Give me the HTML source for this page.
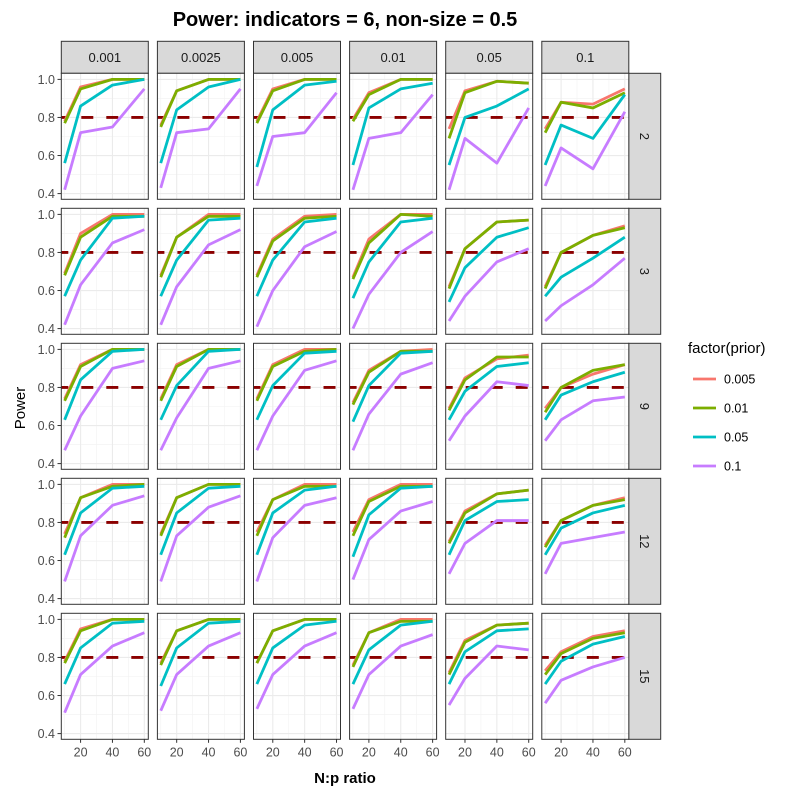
<!DOCTYPE html>
<html><head><meta charset="utf-8"><style>
html,body{margin:0;padding:0;background:#fff}
svg{display:block;font-family:"Liberation Sans",Arial,sans-serif}
</style></head><body>
<svg id="chart" width="800" height="799" viewBox="0 0 800 799">
<text x="345" y="26" text-anchor="middle" font-size="20" font-weight="bold" fill="#000">Power: indicators = 6, non-size = 0.5</text>
<text x="345" y="783" text-anchor="middle" font-size="15" font-weight="bold" fill="#000">N:p ratio</text>
<text transform="translate(25,408) rotate(-90)" text-anchor="middle" font-size="15" fill="#000">Power</text>
<g id="panels"></g>
<g>
<text x="688" y="353" font-size="15" fill="#000">factor(prior)</text>
<g id="legend"></g>
</g>
</svg>
<script>
const xVals=[10,20,40,60];
const colPriors=["0.001","0.0025","0.005","0.01","0.05","0.1"];
const rowSizes=["2","3","9","12","15"];
const seriesNames=["0.005","0.01","0.05","0.1"];
const seriesColors=["#F8766D","#7CAE00","#00BFC4","#C77CFF"];
const yTicks=[0.4,0.6,0.8,1.0];
const xTicks=[20,40,60];
const threshold=0.8;
const powerRow2=[
 [[.78,.96,1,1],[.77,.95,1,1],[.56,.86,.97,1.0],[.42,.72,.75,.95]],
 [[.76,.94,1,1],[.75,.94,1,1],[.56,.84,.96,1.0],[.43,.72,.74,.95]],
 [[.78,.95,1,1],[.77,.94,1,1],[.54,.84,.97,.99],[.44,.70,.72,.93]],
 [[.79,.93,1,1],[.78,.92,1,1],[.55,.85,.95,.98],[.42,.69,.72,.92]],
 [[.74,.94,.99,.98],[.69,.93,.99,.98],[.55,.80,.86,.95],[.42,.69,.56,.85]],
 [[.74,.88,.87,.95],[.72,.88,.85,.93],[.55,.76,.69,.92],[.44,.64,.53,.83]]];
const powerRow3=[
 [[.69,.90,1,1],[.68,.88,.99,.99],[.57,.76,.98,.99],[.42,.63,.85,.92]],
 [[.68,.88,1,1],[.67,.88,.99,.99],[.57,.76,.97,.98],[.42,.62,.84,.92]],
 [[.68,.87,.99,1],[.67,.86,.98,.99],[.57,.76,.96,.98],[.41,.60,.83,.91]],
 [[.67,.87,1,1],[.66,.85,1,.99],[.56,.75,.96,.98],[.40,.58,.80,.91]],
 [[.62,.82,.96,.97],[.61,.82,.96,.97],[.54,.72,.88,.93],[.44,.57,.75,.82]],
 [[.62,.80,.89,.94],[.61,.80,.89,.93],[.57,.67,.77,.88],[.44,.52,.63,.77]]];
const powerRow9=[
 [[.74,.92,1,1],[.73,.91,1,1],[.63,.84,.99,1],[.47,.65,.90,.94]],
 [[.74,.92,1,1],[.73,.91,1,1],[.63,.81,.99,1],[.47,.64,.90,.94]],
 [[.74,.92,1,1],[.73,.91,.99,1],[.63,.81,.98,.99],[.47,.65,.89,.94]],
 [[.72,.89,.99,1],[.71,.88,.99,.99],[.62,.81,.98,.99],[.47,.66,.87,.93]],
 [[.69,.85,.95,.97],[.68,.84,.96,.96],[.63,.78,.91,.93],[.52,.65,.83,.81]],
 [[.69,.80,.87,.92],[.67,.80,.89,.92],[.63,.76,.83,.88],[.52,.63,.73,.75]]];
const powerRow12=[
 [[.74,.93,1,1],[.72,.93,.99,1],[.63,.85,.98,.99],[.49,.73,.89,.94]],
 [[.74,.93,1,1],[.73,.93,1,1],[.63,.85,.98,.99],[.49,.73,.88,.94]],
 [[.75,.92,1,1],[.73,.92,.99,.99],[.63,.85,.97,.99],[.49,.72,.89,.93]],
 [[.75,.92,1,1],[.73,.91,.99,.99],[.62,.84,.98,.99],[.50,.71,.86,.91]],
 [[.70,.86,.95,.97],[.69,.85,.95,.97],[.63,.81,.91,.92],[.53,.69,.81,.81]],
 [[.68,.81,.89,.93],[.67,.81,.89,.92],[.63,.77,.85,.89],[.53,.69,.72,.75]]];
const powerRow15=[
 [[.78,.95,1,1],[.77,.94,1,1],[.66,.85,.98,.99],[.51,.71,.86,.93]],
 [[.77,.94,1,1],[.76,.94,1,1],[.65,.85,.98,.99],[.52,.71,.86,.93]],
 [[.77,.94,1,1],[.77,.94,1,1],[.66,.85,.97,.99],[.53,.71,.86,.93]],
 [[.76,.93,1,1],[.75,.93,.99,.99],[.66,.84,.97,.99],[.53,.71,.86,.92]],
 [[.72,.89,.97,.98],[.71,.88,.97,.98],[.66,.83,.94,.95],[.55,.69,.86,.84]],
 [[.73,.83,.91,.94],[.71,.82,.90,.93],[.66,.78,.87,.91],[.56,.68,.75,.80]]];
const power=[powerRow2,powerRow3,powerRow9,powerRow12,powerRow15];

const NS="http://www.w3.org/2000/svg";
function mk(tag,attrs,parent){const e=document.createElementNS(NS,tag);for(const k in attrs)e.setAttribute(k,attrs[k]);parent.appendChild(e);return e;}
const P0X=61.3,PW=87,CSTEP=96.1,P0Y=73.3,PH=126,RSTEP=135;
const XMIN=7.9,XMAX=62.5,YMIN=0.37,YMAX=1.032;
const panelsG=document.getElementById('panels');

colPriors.forEach((cp,c)=>{
  const x0=P0X+c*CSTEP;
  const s=mk('rect',{x:x0,y:41.3,width:PW,height:32,fill:'#d9d9d9',stroke:'#333','stroke-width':1},panelsG);
  
  
  const t=mk('text',{x:x0+PW/2,y:62,'text-anchor':'middle','font-size':13,fill:'#1a1a1a'},panelsG);
  t.textContent=cp;
  
  
});
rowSizes.forEach((rs,r)=>{
  const y0=P0Y+r*RSTEP;
  const s=mk('rect',{x:628.7,y:y0,width:32,height:PH,fill:'#d9d9d9',stroke:'#333','stroke-width':1},panelsG);
  
  
  const t=mk('text',{transform:`translate(640,${y0+PH/2}) rotate(90)`,'text-anchor':'middle','font-size':13,fill:'#1a1a1a'},panelsG);
  t.textContent=rs;
  
  
  yTicks.forEach(v=>{
    const yy=y0+(YMAX-v)/(YMAX-YMIN)*PH;
    mk('line',{x1:57.5,x2:P0X,y1:yy,y2:yy,stroke:'#333','stroke-width':1},panelsG);
    const tl=mk('text',{x:55,y:yy+4.5,'text-anchor':'end','font-size':12.5,fill:'#4d4d4d'},panelsG);
    tl.textContent=v.toFixed(1);
    
    
  });
});

for(let r=0;r<rowSizes.length;r++){
  for(let c=0;c<colPriors.length;c++){
    const x0=P0X+c*CSTEP,y0=P0Y+r*RSTEP;
    const sx=v=>x0+(v-XMIN)/(XMAX-XMIN)*PW;
    const sy=v=>y0+(YMAX-v)/(YMAX-YMIN)*PH;
    const g=mk('g',{},panelsG);
    
    
    mk('rect',{x:x0,y:y0,width:PW,height:PH,fill:'#fff'},g);
    [0.5,0.7,0.9].forEach(v=>mk('line',{x1:x0,x2:x0+PW,y1:sy(v),y2:sy(v),stroke:'#f2f2f2','stroke-width':0.6},g));
    [10,30,50].forEach(v=>mk('line',{x1:sx(v),x2:sx(v),y1:y0,y2:y0+PH,stroke:'#f2f2f2','stroke-width':0.6},g));
    yTicks.forEach(v=>mk('line',{x1:x0,x2:x0+PW,y1:sy(v),y2:sy(v),stroke:'#ebebeb','stroke-width':1.1},g));
    xTicks.forEach(v=>mk('line',{x1:sx(v),x2:sx(v),y1:y0,y2:y0+PH,stroke:'#ebebeb','stroke-width':1.1},g));
    const th=mk('line',{x1:x0,x2:x0+PW,y1:sy(threshold),y2:sy(threshold),stroke:'#8B0000','stroke-width':2.8,'stroke-dasharray':'12 13','stroke-dashoffset':5},g);
    
    
    for(let s=0;s<seriesNames.length;s++){
      const vals=power[r][c][s];
      const pts=xVals.map((xv,i)=>sx(xv).toFixed(2)+','+sy(vals[i]).toFixed(2)).join(' ');
      const pl=mk('polyline',{points:pts,fill:'none',stroke:seriesColors[s],'stroke-width':2.8,'stroke-linejoin':'round'},g);
      
      
    }
    mk('rect',{x:x0,y:y0,width:PW,height:PH,fill:'none',stroke:'#333','stroke-width':1},g);
    if(r===rowSizes.length-1){
      xTicks.forEach(v=>{
        mk('line',{x1:sx(v),x2:sx(v),y1:y0+PH,y2:y0+PH+3.5,stroke:'#333','stroke-width':1},panelsG);
        const tl=mk('text',{x:sx(v),y:y0+PH+17,'text-anchor':'middle','font-size':12.5,fill:'#4d4d4d'},panelsG);
        tl.textContent=v;
        
        
      });
    }
  }
}
const lg=document.getElementById('legend');
seriesNames.forEach((n,i)=>{
  const y=379+i*29;
  const ln=mk('line',{x1:693,x2:716,y1:y,y2:y,stroke:seriesColors[i],'stroke-width':2.8},lg);
  
  
  const t=mk('text',{x:724,y:y+4.5,'font-size':12.5,fill:'#000'},lg);
  t.textContent=n;
  
  
});
</script>
</body></html>
